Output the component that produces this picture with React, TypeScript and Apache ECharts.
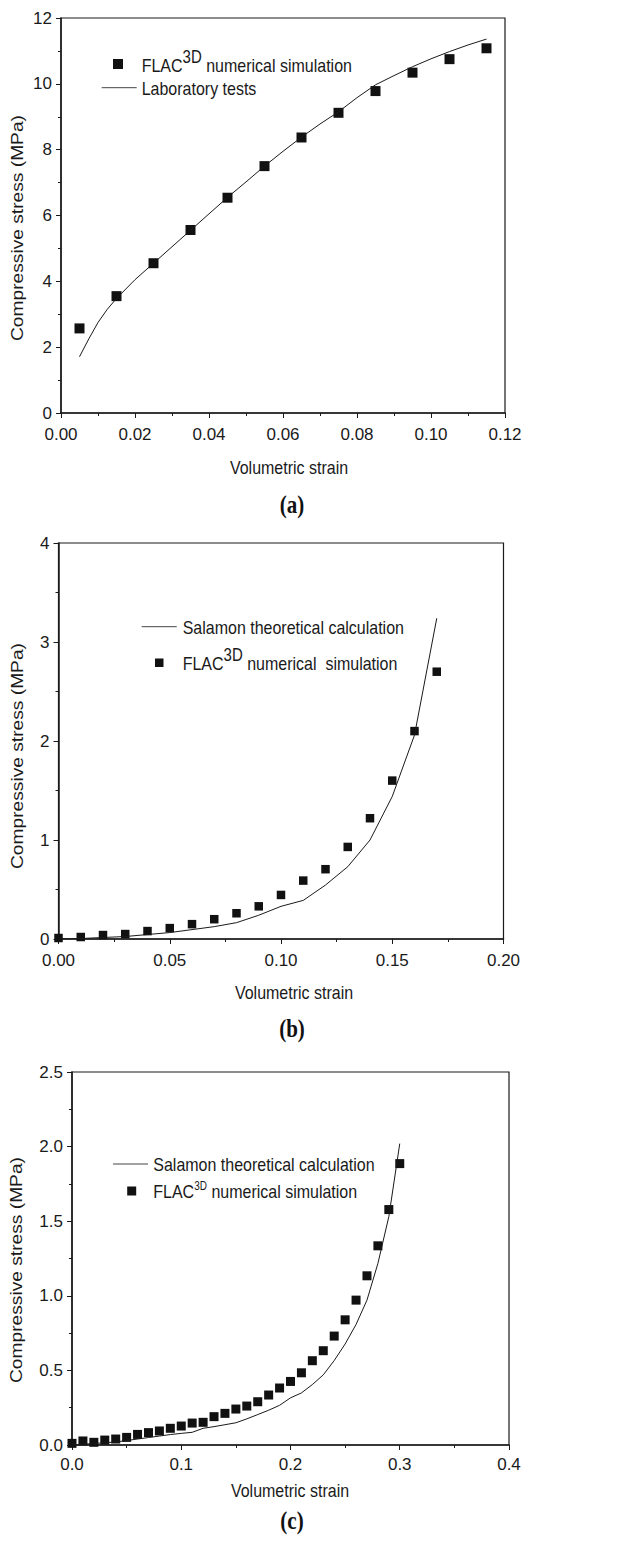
import React, { useEffect, useRef } from "react";
import * as echarts from "echarts";

// ---------- Panel (a) ----------
const strainSimA = [0.005, 0.015, 0.025, 0.035, 0.045, 0.055, 0.065, 0.075, 0.085, 0.095, 0.105, 0.115];
const stressSimA = [2.57, 3.55, 4.55, 5.56, 6.54, 7.5, 8.37, 9.12, 9.78, 10.34, 10.75, 11.08];
const strainLabA = [0.005, 0.0075, 0.01, 0.0125, 0.015, 0.02, 0.025, 0.03, 0.035, 0.04, 0.045, 0.05, 0.055, 0.06, 0.065, 0.07, 0.075, 0.08, 0.085, 0.09, 0.095, 0.1, 0.105, 0.11, 0.115];
const stressLabA = [1.71, 2.25, 2.75, 3.15, 3.48, 4.05, 4.55, 5.05, 5.55, 6.05, 6.55, 7.02, 7.5, 7.95, 8.38, 8.78, 9.15, 9.58, 9.97, 10.25, 10.52, 10.76, 10.98, 11.18, 11.36];

// ---------- Panel (b) ----------
const strainB = [0, 0.01, 0.02, 0.03, 0.04, 0.05, 0.06, 0.07, 0.08, 0.09, 0.1, 0.11, 0.12, 0.13, 0.14, 0.15, 0.16, 0.17];
const stressSimB = [0.01, 0.02, 0.04, 0.05, 0.08, 0.11, 0.15, 0.2, 0.26, 0.33, 0.445, 0.59, 0.705, 0.93, 1.22, 1.6, 2.1, 2.7];
const stressSalB = [0, 0.005, 0.015, 0.025, 0.045, 0.065, 0.095, 0.125, 0.165, 0.24, 0.33, 0.39, 0.545, 0.73, 1.0, 1.44, 2.06, 3.24];

// ---------- Panel (c) ----------
const strainC = [0, 0.01, 0.02, 0.03, 0.04, 0.05, 0.06, 0.07, 0.08, 0.09, 0.1, 0.11, 0.12, 0.13, 0.14, 0.15, 0.16, 0.17, 0.18, 0.19, 0.2, 0.21, 0.22, 0.23, 0.24, 0.25, 0.26, 0.27, 0.28, 0.29, 0.3];
const stressSimC = [0.011, 0.027, 0.018, 0.033, 0.04, 0.051, 0.071, 0.083, 0.094, 0.112, 0.127, 0.147, 0.152, 0.19, 0.212, 0.241, 0.261, 0.29, 0.335, 0.382, 0.426, 0.484, 0.565, 0.632, 0.73, 0.839, 0.971, 1.134, 1.335, 1.578, 1.886];
const stressSalC = [0, 0.005, 0.01, 0.015, 0.02, 0.03, 0.04, 0.05, 0.06, 0.07, 0.078, 0.085, 0.112, 0.123, 0.136, 0.149, 0.175, 0.204, 0.233, 0.266, 0.316, 0.349, 0.405, 0.47, 0.566, 0.677, 0.808, 0.971, 1.217, 1.53, 2.02];

// axis settings
const xMaxes = [0.12, 0.2, 0.4];
const xIntervals = [0.02, 0.05, 0.1];
const yMaxes = [12, 4, 2.5];
const yIntervals = [2, 1, 0.5];
const xDecimals = [2, 2, 1];
const yDecimals = [0, 0, 1];

const TITLE_X = "Volumetric strain";
const TITLE_Y = "Compressive stress (MPa)";
const LEG_SIM = "numerical simulation";
const LEG_SIM_B = "numerical  simulation";
const LEG_LAB = "Laboratory tests";
const LEG_SAL = "Salamon theoretical calculation";
const PANEL_LABELS = ["(a)", "(b)", "(c)"];

const FONT = "'Liberation Sans', Arial, Helvetica, sans-serif";
const INK = "#1a1a1a";
const STRETCH = 1.2;

function ctx2d() {
  return document.createElement("canvas").getContext("2d");
}
function tw(text: string, size: number): number {
  const ctx = ctx2d();
  if (!ctx) return text.length * size * 0.55;
  ctx.font = `${size}px 'Liberation Sans', Arial, sans-serif`;
  return ctx.measureText(text).width;
}
function fontAvailable(name: string): boolean {
  const ctx = ctx2d();
  if (!ctx) return false;
  const s = "0123456789.abcdefghijklmnopqrstuvwxyzABCDEFGHIJ";
  ctx.font = "40px monospace";
  const a = ctx.measureText(s).width;
  ctx.font = `40px '${name}', monospace`;
  const b = ctx.measureText(s).width;
  return Math.abs(a - b) > 1;
}

const toPairs = (xs: number[], ys: number[]) => xs.map((x, i) => [x, ys[i]]);

export default function App() {
  const ref = useRef<HTMLDivElement>(null);
  useEffect(() => {
    if (!ref.current) return;
    const chart = echarts.init(ref.current, null, { renderer: "svg" });

    const narrow = fontAvailable("Liberation Sans Narrow");
    const tickFont = narrow ? "'Liberation Sans Narrow', 'Liberation Sans', Arial, sans-serif" : FONT;
    const tickSize = narrow ? 19.5 : 17;

    const grids = [
      { left: 61, top: 18, width: 444, height: 395 },
      { left: 58.5, top: 543, width: 445, height: 396 },
      { left: 72, top: 1072, width: 437, height: 373 },
    ];
    const xLabelMargin = narrow ? [12, 12, 10] : [13, 13, 11];

    const xAxes = grids.map((_, i) => ({
      type: "value",
      gridIndex: i,
      min: 0,
      max: xMaxes[i],
      interval: xIntervals[i],
      minorTick: { show: true, splitNumber: 2, length: 3, lineStyle: { color: INK, width: 1 } },
      axisLine: { show: true, onZero: false, lineStyle: { color: INK, width: 1.5 } },
      axisTick: { show: true, inside: false, length: 5, lineStyle: { color: INK, width: 1 } },
      splitLine: { show: false },
      axisLabel: {
        fontSize: tickSize,
        fontFamily: tickFont,
        color: INK,
        margin: xLabelMargin[i],
        formatter: (v: number) => v.toFixed(xDecimals[i]),
      },
    }));
    const yAxes = grids.map((_, i) => ({
      type: "value",
      gridIndex: i,
      min: 0,
      max: yMaxes[i],
      interval: yIntervals[i],
      minorTick: { show: true, splitNumber: 2, length: 3, lineStyle: { color: INK, width: 1 } },
      axisLine: { show: true, onZero: false, lineStyle: { color: INK, width: 1.5 } },
      axisTick: { show: true, inside: false, length: 5, lineStyle: { color: INK, width: 1 } },
      splitLine: { show: false },
      axisLabel: {
        fontSize: tickSize,
        fontFamily: tickFont,
        color: INK,
        margin: 9,
        formatter: (v: number) => v.toFixed(yDecimals[i]),
      },
    }));

    const lineStyle = { color: INK, width: 1 };
    const sq = { color: "#111", opacity: 1 };
    const series: any[] = [
      { type: "line", xAxisIndex: 0, yAxisIndex: 0, data: toPairs(strainLabA, stressLabA), showSymbol: false, symbol: "none", lineStyle },
      { type: "scatter", xAxisIndex: 0, yAxisIndex: 0, data: toPairs(strainSimA, stressSimA), symbol: "rect", symbolSize: 10, itemStyle: sq },
      { type: "line", xAxisIndex: 1, yAxisIndex: 1, data: toPairs(strainB, stressSalB), showSymbol: false, symbol: "none", lineStyle },
      { type: "scatter", xAxisIndex: 1, yAxisIndex: 1, data: toPairs(strainB, stressSimB), symbol: "rect", symbolSize: 8.5, itemStyle: sq },
      { type: "line", xAxisIndex: 2, yAxisIndex: 2, data: toPairs(strainC, stressSalC), showSymbol: false, symbol: "none", lineStyle },
      { type: "scatter", xAxisIndex: 2, yAxisIndex: 2, data: toPairs(strainC, stressSimC), symbol: "rect", symbolSize: 9, itemStyle: sq },
    ];

    const txt = (x: number, y: number, text: string, size: number, extra: any = {}) => ({
      type: "text",
      x,
      y,
      scaleY: STRETCH,
      silent: true,
      style: { text, fontSize: size, fontFamily: FONT, fill: INK, align: "left", verticalAlign: "middle", ...extra },
    });

    // FLAC^3D legend text builder
    const flac = (x: number, y: number, supSize: number, raise: number, rest: string) => {
      const w1 = tw("FLAC", 16);
      const w2 = tw("3D", supSize);
      return [
        txt(x, y, "FLAC", 16),
        txt(x + w1, y - raise, "3D", supSize),
        txt(x + w1 + w2 + tw(" ", 16), y, rest, 16),
      ];
    };

    const graphics: any[] = [];
    const xTitlePos = [[289, 467], [294, 992], [290, 1490]];
    const yTitlePos = [[18, 228], [18, 756], [17, 1270]];
    const panelPos = [[292, 504], [292, 1028], [292, 1520]];
    for (let i = 0; i < 3; i++) {
      graphics.push(txt(xTitlePos[i][0], xTitlePos[i][1], TITLE_X, 16, { align: "center" }));
      graphics.push({
        type: "text",
        x: yTitlePos[i][0],
        y: yTitlePos[i][1],
        rotation: Math.PI / 2,
        scaleX: STRETCH,
        silent: true,
        style: { text: TITLE_Y, fontSize: 16, fontFamily: FONT, fill: INK, align: "center", verticalAlign: "middle" },
      });
      graphics.push({
        type: "text",
        x: panelPos[i][0],
        y: panelPos[i][1],
        scaleY: STRETCH,
        silent: true,
        style: {
          text: PANEL_LABELS[i],
          fontSize: 21,
          fontWeight: "bold",
          fontFamily: "'Liberation Serif', 'Times New Roman', serif",
          fill: "#111",
          align: "center",
          verticalAlign: "middle",
        },
      });
    }

    // Legend (a)
    graphics.push({ type: "rect", shape: { x: 113, y: 59, width: 10, height: 10 }, style: { fill: "#111" }, silent: true });
    graphics.push(...flac(141.7, 65, 15, 7.5, LEG_SIM));
    graphics.push({ type: "line", shape: { x1: 101.7, y1: 87.7, x2: 136.7, y2: 87.7 }, style: { stroke: "#444", lineWidth: 1 }, silent: true });
    graphics.push(txt(141.7, 88, LEG_LAB, 16));

    // Legend (b)
    graphics.push({ type: "line", shape: { x1: 141.7, y1: 626.7, x2: 176.7, y2: 626.7 }, style: { stroke: "#444", lineWidth: 1 }, silent: true });
    graphics.push(txt(182.7, 627, LEG_SAL, 16));
    graphics.push({ type: "rect", shape: { x: 155, y: 658.5, width: 8.5, height: 8.5 }, style: { fill: "#111" }, silent: true });
    graphics.push(...flac(182.7, 663, 15, 7.5, LEG_SIM_B));

    // Legend (c)
    graphics.push({ type: "line", shape: { x1: 113, y1: 1164, x2: 148, y2: 1164 }, style: { stroke: "#444", lineWidth: 1 }, silent: true });
    graphics.push(txt(153.3, 1164, LEG_SAL, 16));
    graphics.push({ type: "rect", shape: { x: 127.2, y: 1186.5, width: 9, height: 9 }, style: { fill: "#111" }, silent: true });
    graphics.push(...flac(153.3, 1191, 10, 5.5, LEG_SIM));

    chart.setOption({
      animation: false,
      backgroundColor: "#ffffff",
      grid: grids.map((g) => ({ ...g, show: true, borderColor: INK, borderWidth: 1.2, backgroundColor: "transparent" })),
      xAxis: xAxes,
      yAxis: yAxes,
      series,
      graphic: graphics,
    });
    return () => chart.dispose();
  }, []);

  return (
    <div
      ref={ref}
      style={{ position: "absolute", left: 0, top: 0, width: 632, height: 1555, background: "#fff" }}
    />
  );
}
